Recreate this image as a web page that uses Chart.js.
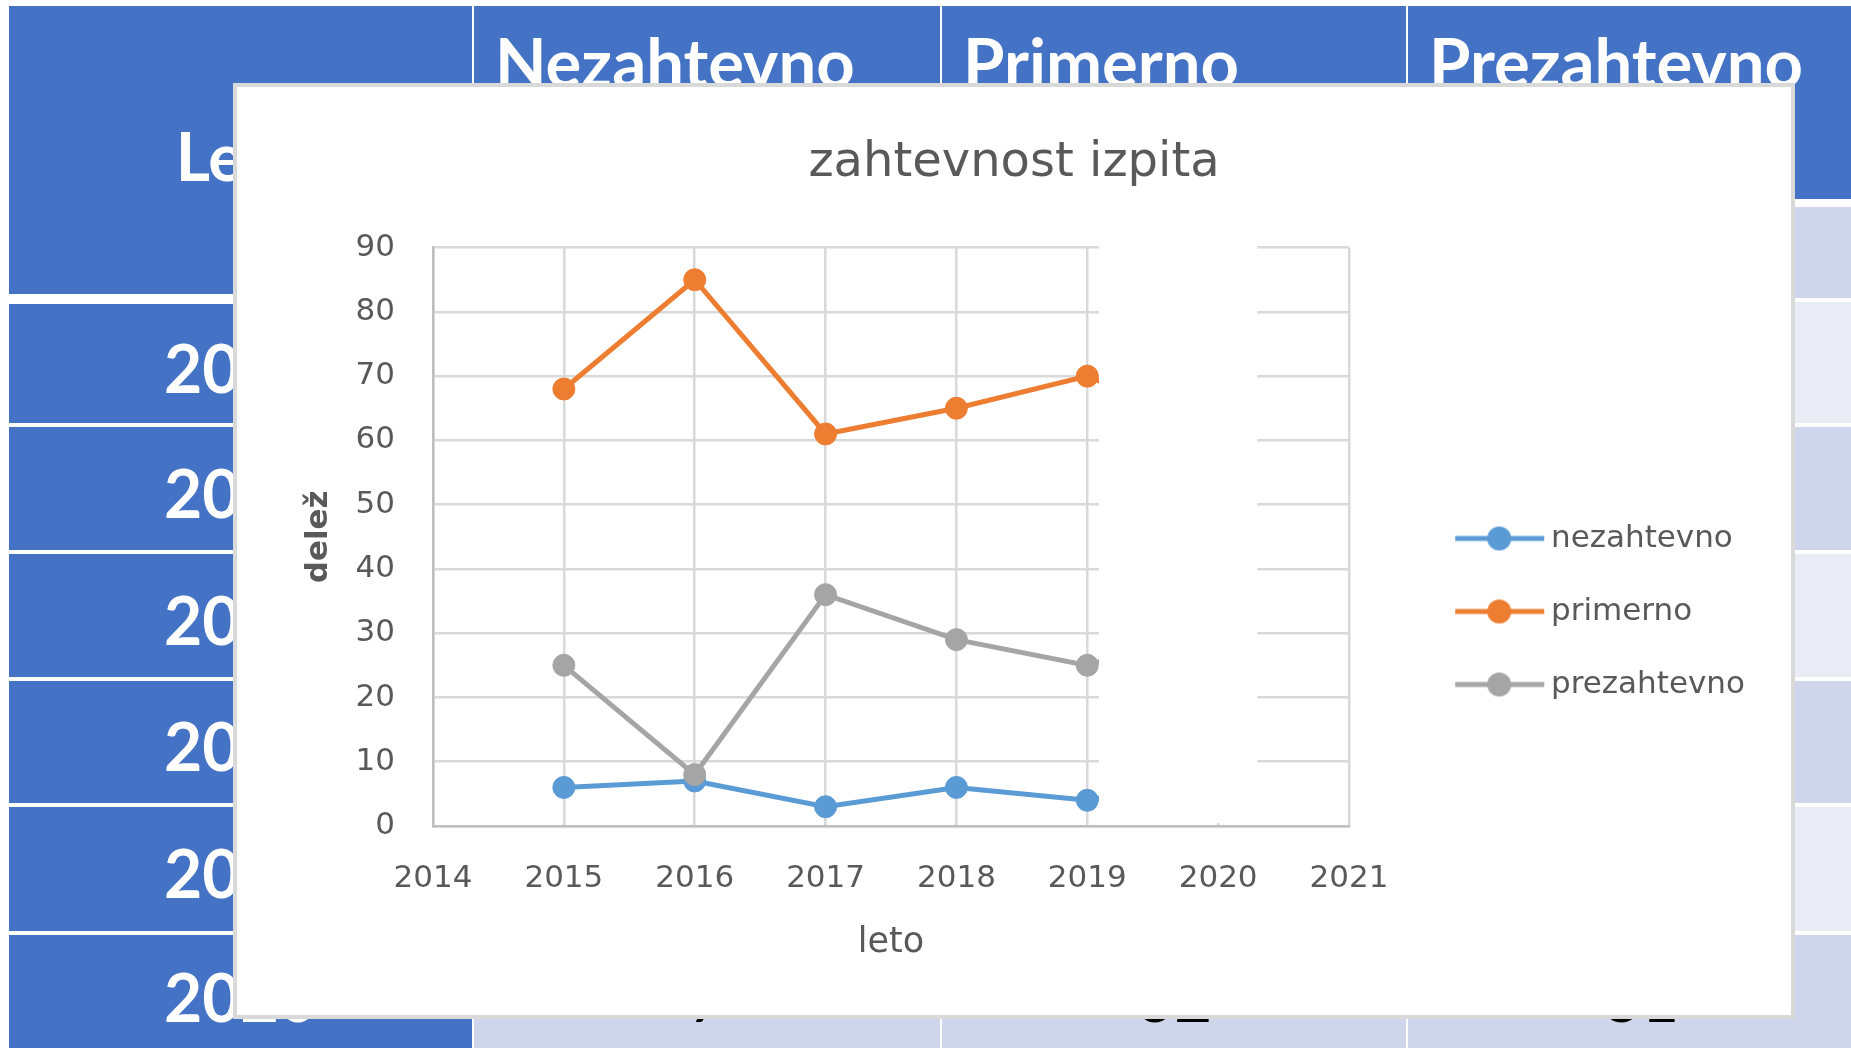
<!DOCTYPE html>
<html lang="sl">
<head>
<meta charset="utf-8">
<title>zahtevnost izpita</title>
<script src="https://cdn.jsdelivr.net/npm/chart.js@4.4.1/dist/chart.umd.min.js"></script>
<style>
  html, body { margin: 0; padding: 0; background: #fff; }
  body { width: 1851px; height: 1048px; position: relative; overflow: hidden; font-family: Lato, "Open Sans", sans-serif; }
  .cell { position: absolute; box-sizing: border-box; display: flex; align-items: center; justify-content: center; font-size: 66px; line-height: 1.2; white-space: nowrap; overflow: hidden; }
  .blue { background: #4472C4; color: #fff; font-weight: bold; }
  .band1 { background: #CFD5EA; color: #000; }
  .band2 { background: #E9EBF5; color: #000; }
  #box { position: absolute; left: 233px; top: 83px; width: 1562px; height: 936px; box-sizing: border-box; border: 4px solid #D9D9D9; background: #fff; }
  #chart { position: absolute; left: 0; top: 0; }
</style>
</head>
<body>
<div id="table"></div>
<div id="box"><canvas id="chart" width="1554" height="928"></canvas></div>
<script>
// podatki
const tableHead = ["Leto", "Nezahtevno", "Primerno", "Prezahtevno"];
const years = [2015, 2016, 2017, 2018, 2019, 2020];
const nezahtevno = [6, 7, 3, 6, 4, 7];
const primerno = [68, 85, 61, 65, 70, 62];
const prezahtevno = [25, 8, 36, 29, 25, 31];
const xRange = [2014, 2021];
const yRange = [0, 90];
const yStep = 10;

// beli pravokotnik, ki v izvirniku prekriva del grafa (v letih na osi x)
const coverFrom = 2019.09;
const coverTo = 2020.3;

// tabela v ozadju
const colLeft = [9, 474, 942, 1408];
const colRight = [472, 940, 1406, 1874];
const rowTop = [302, 427, 554, 681, 807, 935];
const rowBottom = [423, 550, 677, 803, 931, 1050];

const table = document.getElementById("table");
function cell(x0, y0, x1, y1, cls, text, style) {
  const d = document.createElement("div");
  d.className = "cell " + cls;
  d.style.left = x0 + "px";
  d.style.top = y0 + "px";
  d.style.width = (x1 - x0) + "px";
  d.style.height = (y1 - y0) + "px";
  if (style) d.style.cssText += style;
  d.textContent = text;
  table.appendChild(d);
}

cell(colLeft[0], 6, colRight[0], 294, "blue", tableHead[0], "padding-top:12px;");
for (let c = 1; c < 4; c++) {
  cell(colLeft[c], 6, colRight[c], 199, "blue", tableHead[c],
    "align-items:flex-start;justify-content:flex-start;padding:15px 0 0 21px;font-size:67px;");
  cell(colLeft[c], 207, colRight[c], 298, "band1", "");
}
years.forEach((y, i) => {
  const band = i % 2 === 0 ? "band2" : "band1";
  const top = i === 0 ? 304 : rowTop[i];
  cell(colLeft[0], top, colRight[0], rowBottom[i], "blue", String(y), "padding-top:8px;");
  [nezahtevno, primerno, prezahtevno].forEach((s, c) => {
    cell(colLeft[c + 1], rowTop[i], colRight[c + 1], rowBottom[i], band, String(s[i]), "padding-top:8px;");
  });
});
// spodnji rob tabele
cell(colLeft[0], 1050, colRight[0], 1060, "blue", "");
for (let c = 1; c < 4; c++) cell(colLeft[c], 1050, colRight[c], 1060, "band1", "");

// ikone za legendo (črta s krogom)
function legendIcon(color) {
  const c = document.createElement("canvas");
  c.width = 168;
  c.height = 28;
  const g = c.getContext("2d");
  g.strokeStyle = color;
  g.lineWidth = 5;
  g.beginPath();
  g.moveTo(84 - 8, 14);
  g.lineTo(84 + 81, 14);
  g.stroke();
  g.fillStyle = color;
  g.beginPath();
  g.arc(84 + 36, 14, 12, 0, Math.PI * 2);
  g.fill();
  return c;
}

const coverPlugin = {
  id: "cover",
  afterDatasetsDraw(chart) {
    const { ctx, chartArea, scales } = chart;
    const left = scales.x.getPixelForValue(coverFrom);
    const right = scales.x.getPixelForValue(coverTo);
    ctx.save();
    ctx.fillStyle = "#fff";
    ctx.fillRect(left, chartArea.top - 4, right - left, chartArea.bottom - chartArea.top + 1);
    ctx.restore();
  },
};

Chart.defaults.font.family = "'DejaVu Sans', sans-serif";
Chart.defaults.color = "#595959";

function series(label, data, color, order) {
  return {
    label: label,
    data: data,
    borderColor: color,
    backgroundColor: color,
    pointBackgroundColor: color,
    pointBorderColor: color,
    borderWidth: 5,
    pointRadius: 11,
    pointBorderWidth: 1,
    tension: 0,
    order: order,
  };
}

const datasets = [
  series("nezahtevno", nezahtevno, "#5B9BD5", 2),
  series("primerno", primerno, "#ED7D31", 1),
  series("prezahtevno", prezahtevno, "#A5A5A5", 0),
];
const icons = datasets.map((d) => legendIcon(d.borderColor));

new Chart(document.getElementById("chart"), {
  type: "line",
  data: { labels: years, datasets: datasets },
  plugins: [coverPlugin],
  options: {
    responsive: false,
    animation: false,
    devicePixelRatio: 1,
    layout: { padding: { left: 42, right: 42, top: 8, bottom: 39 } },
    plugins: {
      tooltip: { enabled: false },
      title: {
        display: true,
        text: "zahtevnost izpita",
        color: "#595959",
        font: { size: 48, weight: "normal" },
        padding: { top: 40, bottom: 55 },
      },
      legend: {
        position: "right",
        maxWidth: 400,
        title: { display: true, text: "", font: { size: 10 }, padding: { top: 140, bottom: 0 } },
        labels: {
          usePointStyle: true,
          pointStyleWidth: 144.5,
          padding: 42,
          color: "#595959",
          font: { size: 31 },
          sort: (a, b) => a.datasetIndex - b.datasetIndex,
          generateLabels(chart) {
            const items = Chart.defaults.plugins.legend.labels.generateLabels(chart);
            items.forEach((it) => { it.pointStyle = icons[it.datasetIndex]; });
            return items;
          },
        },
      },
    },
    scales: {
      x: {
        type: "linear",
        min: xRange[0],
        max: xRange[1],
        afterFit(scale) { scale.height = 150; },
        ticks: {
          stepSize: 1,
          padding: 34,
          maxRotation: 0,
          autoSkip: false,
          color: "#595959",
          font: { size: 31 },
          callback: (v) => String(v),
        },
        grid: { color: "#D9D9D9", lineWidth: 2.5, drawTicks: false },
        border: { color: "#BFBFBF", width: 2.5 },
        title: {
          display: true,
          text: "leto",
          color: "#595959",
          font: { size: 35 },
          padding: { top: 0, bottom: 12 },
        },
      },
      y: {
        min: yRange[0],
        max: yRange[1],
        afterFit(scale) { scale.width = 154; },
        ticks: {
          stepSize: yStep,
          padding: 38,
          color: "#595959",
          font: { size: 31 },
        },
        grid: { color: "#D9D9D9", lineWidth: 2.5, drawTicks: false },
        border: { color: "#BFBFBF", width: 2.5 },
        title: {
          display: true,
          text: "delež",
          color: "#595959",
          font: { size: 31, weight: "bold" },
          padding: { top: 21, bottom: 0 },
        },
      },
    },
  },
});
</script>
</body>
</html>
